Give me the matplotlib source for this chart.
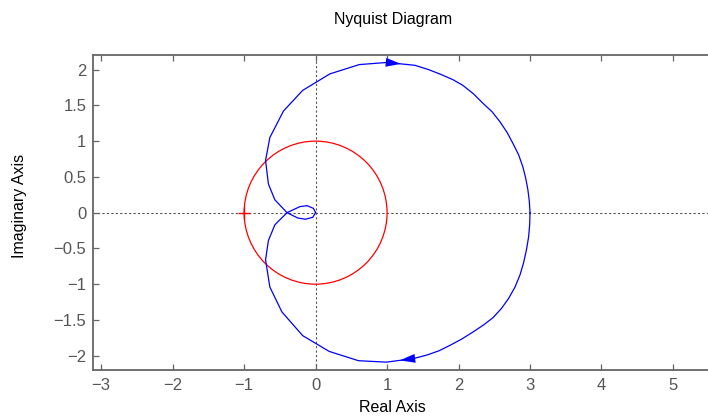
import matplotlib
matplotlib.use("Agg")
import matplotlib.pyplot as plt
from matplotlib.patches import Circle

plt.rcParams['font.family'] = ['Liberation Sans', 'DejaVu Sans']

# Nyquist curve
# negative frequencies: origin -> top arc -> (3, 0)
upper_re = [0.00, -0.04, -0.14, -0.25, -0.40, -0.57, -0.66, -0.70, -0.64, -0.45,
            -0.18, 0.20, 0.61, 1.00, 1.39, 1.58, 1.76, 1.92, 2.06, 2.21, 2.34, 2.47,
            2.58, 2.68, 2.76, 2.84, 2.90, 2.94, 2.97, 2.99, 3.00]
upper_im = [0.00, -0.065, -0.092, -0.075, 0.00, 0.18, 0.40, 0.73, 1.05, 1.42,
            1.71, 1.94, 2.07, 2.10, 2.06, 2.00, 1.93, 1.86, 1.78, 1.66, 1.53, 1.41,
            1.27, 1.12, 0.97, 0.81, 0.64, 0.48, 0.32, 0.16, 0.00]
# positive frequencies: (3, 0) -> bottom arc -> loop -> origin
lower_re = [3.00, 2.995, 2.98, 2.95, 2.91, 2.86, 2.79, 2.70, 2.60, 2.48, 2.35, 2.20,
            2.04, 1.89, 1.73, 1.56, 1.37, 0.99, 0.60, 0.19, -0.18, -0.47, -0.64, -0.70,
            -0.66, -0.57, -0.40, -0.22, -0.12, -0.03, 0.00]
lower_im = [0.00, -0.17, -0.34, -0.52, -0.70, -0.87, -1.04, -1.20, -1.34, -1.47, -1.57, -1.67,
            -1.77, -1.85, -1.93, -1.99, -2.04, -2.09, -2.07, -1.94, -1.72, -1.39, -1.04, -0.66,
            -0.39, -0.17, 0.00, 0.084, 0.098, 0.06, 0.00]

critical_point = (-1, 0)
unit_radius = 1.0

xticks = [-3, -2, -1, 0, 1, 2, 3, 4, 5]
yticks = [-2, -1.5, -1, -0.5, 0, 0.5, 1, 1.5, 2]
ytick_labels = ['\u22122', '\u22121.5', '\u22121', '\u22120.5', '0', '0.5', '1', '1.5', '2']

axis_grey = '#666666'
label_grey = '#555555'

fig = plt.figure(figsize=(7.08, 4.16), dpi=100)
ax = fig.add_axes([93.3 / 708, 46 / 416, 614.7 / 708, 314.7 / 416])

# zero lines
ax.axhline(0, color='#555555', lw=0.8, ls=(0, (2, 2)), zorder=1)
ax.axvline(0, color='#555555', lw=0.8, ls=(0, (2, 2)), zorder=1)

# unit circle and -1 point
ax.add_patch(Circle((0, 0), unit_radius, fill=False, edgecolor='#ff0000', lw=0.9, zorder=2))
ax.plot(*critical_point, marker='+', color='#ff0000', markersize=9, mew=1.0, zorder=3)

ax.plot(upper_re, upper_im, color='#0000ff', lw=0.9, zorder=4)
ax.plot(lower_re, lower_im, color='#0000ff', lw=0.9, zorder=4)

# direction arrows, placed half way along one segment of each branch
def add_arrow(re, im, i):
    tip = ((re[i] + re[i + 1]) / 2, (im[i] + im[i + 1]) / 2)
    ax.annotate('', xy=tip, xytext=(re[i], im[i]),
                arrowprops=dict(arrowstyle='-|>,head_length=0.55,head_width=0.16',
                                color='#0000ff', lw=0, mutation_scale=20,
                                shrinkA=0, shrinkB=0), zorder=5)

add_arrow(upper_re, upper_im, 13)
add_arrow(lower_re, lower_im, 16)

ax.set_xlim(-3.11, 5.49)
ax.set_ylim(-2.2, 2.2)
ax.set_xticks(xticks)
ax.set_xticklabels([str(v).replace('-', '\u2212') for v in xticks])
ax.set_yticks(yticks)
ax.set_yticklabels(ytick_labels)

ax.tick_params(direction='in', length=4.5, width=0.9, color=axis_grey,
               labelcolor=label_grey, labelsize=12, top=True, right=False)
ax.tick_params(axis='x', pad=6)
ax.tick_params(axis='y', pad=5)
for side in ['left', 'top', 'bottom']:
    ax.spines[side].set_color(axis_grey)
    ax.spines[side].set_linewidth(1.3)
ax.spines['right'].set_visible(False)

fig.text(393 / 708, 1 - 24 / 416, 'Nyquist Diagram', ha='center', va='baseline',
         fontsize=11.5, color='black')
fig.text(392 / 708, 1 - 411.5 / 416, 'Real Axis', ha='center', va='baseline',
         fontsize=11.5, color='black')
fig.text(20 / 708, 1 - 206 / 416, 'Imaginary Axis', ha='center', va='center',
         rotation=90, fontsize=11.5, color='black')

fig.savefig('out.png', dpi=100)
